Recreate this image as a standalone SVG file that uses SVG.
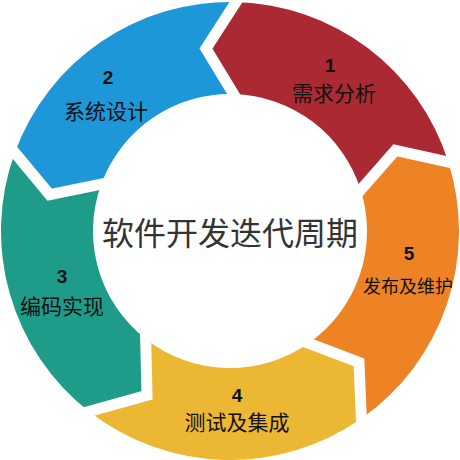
<svg xmlns="http://www.w3.org/2000/svg" width="460" height="460" viewBox="0 0 460 460">
<style>
.seg{mask:url(#gaps)}
.num{font-family:"Liberation Sans","Noto Sans CJK SC",sans-serif;font-weight:bold;font-size:19px;fill:#111;text-anchor:middle}
.lbl{font-family:"Noto Sans CJK SC","Liberation Sans",sans-serif;font-size:21px;fill:#111;text-anchor:middle}
.title{font-family:"Noto Sans CJK SC","Liberation Sans",sans-serif;font-size:32px;fill:#333;text-anchor:middle}
.cut{fill:none;stroke:#000;stroke-width:11;stroke-linejoin:miter;stroke-miterlimit:10}
</style>
<defs>
<mask id="gaps" maskUnits="userSpaceOnUse" x="0" y="0" width="460" height="460">
<rect x="0" y="0" width="460" height="460" fill="#fff"/>
<polyline class="cut" points="474.91,168.04 395.38,150.34 343.30,209.53"/>
<polyline class="cut" points="251.00,-21.17 205.98,48.58 247.40,116.79"/>
<polyline class="cut" points="-2.60,131.70 49.63,194.63 127.08,178.89"/>
<polyline class="cut" points="59.99,419.56 147.04,395.24 144.95,310.82"/>
<polyline class="cut" points="362.54,446.77 358.97,362.24 283.38,333.71"/>
</mask>
</defs>
<rect width="460" height="460" fill="#fff"/>
<g id="connectors"></g>
<g id="step1">
<path class="seg" fill="#AB2932" d="M448.40,162.14 A229,229 0 0 0 235.99,2.08 L205.98,48.58 L233.59,94.05 A137,137 0 0 1 360.66,189.80 L395.38,150.34 Z"/>
<text class="num" x="330" y="72">1</text>
<text class="lbl" x="334" y="101">需求分析</text>
</g>
<g id="step2">
<path class="seg" fill="#1D97D7" d="M235.99,2.08 A229,229 0 0 0 14.81,152.68 L49.63,194.63 L101.26,184.14 A137,137 0 0 1 233.59,94.05 L205.98,48.58 Z"/>
<text class="num" x="108" y="84">2</text>
<text class="lbl" x="106" y="119">系统设计</text>
</g>
<g id="step3">
<path class="seg" fill="#1F9C89" d="M14.81,152.68 A229,229 0 0 0 89.01,411.45 L147.04,395.24 L145.65,338.96 A137,137 0 0 1 101.26,184.14 L49.63,194.63 Z"/>
<text class="num" x="62" y="283">3</text>
<text class="lbl" x="62" y="314">编码实现</text>
</g>
<g id="step4">
<path class="seg" fill="#ECB732" d="M89.01,411.45 A229,229 0 0 0 361.35,418.59 L358.97,362.24 L308.58,343.22 A137,137 0 0 1 145.65,338.96 L147.04,395.24 Z"/>
<text class="num" x="237" y="402">4</text>
<text class="lbl" x="237" y="430">测试及集成</text>
</g>
<g id="step5">
<path class="seg" fill="#ED8324" d="M361.35,418.59 A229,229 0 0 0 448.40,162.14 L395.38,150.34 L360.66,189.80 A137,137 0 0 1 308.58,343.22 L358.97,362.24 Z"/>
<text class="num" x="409" y="260">5</text>
<text class="lbl" x="408" y="293" style="font-size:18px">发布及维护</text>
</g>
<g id="center">
<text class="title" x="230" y="245">软件开发迭代周期</text>
</g>
</svg>
